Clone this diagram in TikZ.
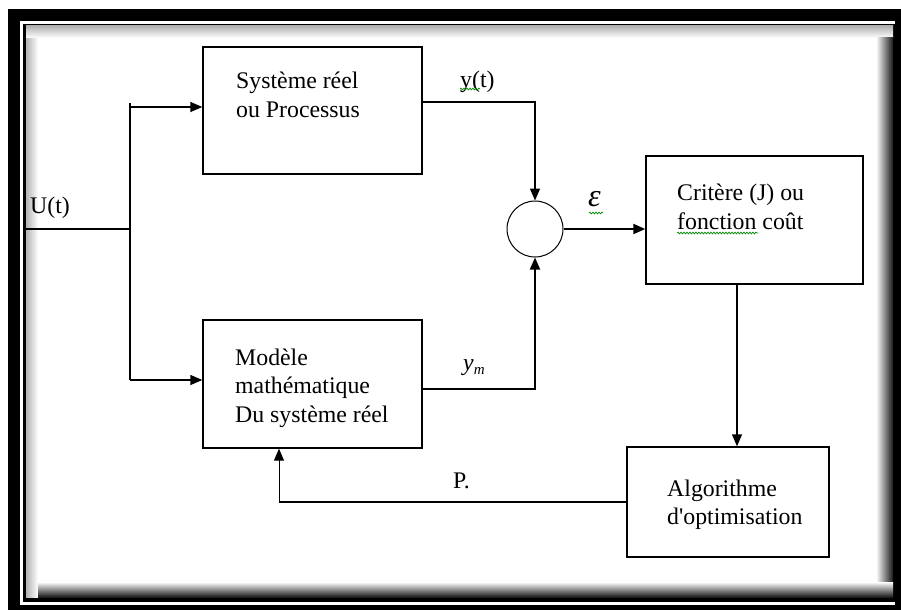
\documentclass[tikz,border=0pt]{standalone}
\usepackage{fontspec}
\setmainfont{Liberation Serif}
\usetikzlibrary{arrows.meta,decorations.pathmorphing}

\tikzset{
  blk/.style={draw=black, line width=1.4pt, rectangle, inner sep=0pt},
  lbl/.style={anchor=base west, inner sep=0pt, font=\fontsize{23.8}{28.5}\selectfont},
  tip/.style={-{Triangle[length=12pt,width=10pt]}},
  wire/.style={line width=1.3pt},
  arr/.style={line width=1.4pt, tip},
  squig/.style={draw=green!55!black, line width=0.7pt,
    decorate, decoration={snake, amplitude=0.9pt, segment length=3pt}}
}

\begin{document}
\begin{tikzpicture}[x=1pt,y=-1pt]
\useasboundingbox (0,0) rectangle (901,610);

% page border: thick outer band, white gap, thin inner line, soft shadow
\fill[black] (8,9) rectangle (901,610);
\fill[white] (20,21) rectangle (895,605);
\fill[black] (23,24) rectangle (895,602);
\fill[white] (26,26) rectangle (893,597);
\shade[left color=gray!60, right color=white] (26,26) rectangle (38,597);
\shade[top color=gray!60, bottom color=white] (26,26) rectangle (893,38);
\shade[left color=white, right color=black!90] (876,38) rectangle (893,597);
\shade[top color=white, bottom color=black!90] (38,582) rectangle (893,597);
\fill[white] (38,38) rectangle (876,582);

% blocks
\node[blk, minimum width=219pt, minimum height=127pt] (sys)  at (312.5,110.5) {};
\node[blk, minimum width=219pt, minimum height=128pt] (mod)  at (312.5,384) {};
\node[blk, minimum width=217pt, minimum height=128pt] (crit) at (754.5,220) {};
\node[blk, minimum width=202pt, minimum height=110pt] (opt)  at (728,502) {};
\node[draw=black, line width=1pt, circle, minimum size=56pt, inner sep=0pt] (sum) at (535,229) {};

% block texts
\node[lbl] (sys1) at (236,88) {Système réel};
\node[lbl] (sys2) at (236,117) {ou Processus};
\node[lbl] (mod1) at (235,365) {Modèle};
\node[lbl] (mod2) at (235,393) {mathématique};
\node[lbl] (mod3) at (235,422) {Du système réel};
\node[lbl] (crit1) at (677,200) {Critère (J) ou};
\node[lbl] (crit2) at (677,229) {fonction coût};
\node[lbl] (opt1) at (667,496) {Algorithme};
\node[lbl] (opt2) at (667,524) {d\textquotesingle optimisation};

% signal labels
\node[lbl] (ulab) at (30,213) {U(t)};
\node[lbl] (ylab) at (460,87) {y(t)};
\node[lbl, font=\fontsize{32}{32}\selectfont\itshape] (elab) at (588,206) {ε};
\node[lbl] (ymlab) at (463,370) {\itshape y\raisebox{-4pt}{\fontsize{15}{15}\selectfont m}};
\node[lbl] (plab) at (453,488) {P.};

% spelling marks
\draw[squig] (460,89) -- (480,89);
\draw[squig] (589,213) -- (603,213);
\draw[squig] (677,233) -- (758,233);

% input and branching
\coordinate (uin) at (26,229);
\coordinate (jmid) at (130,229);
\coordinate (jtop) at (130,103);
\coordinate (jup) at (130,107);
\coordinate (jlow) at (130,380);
\draw[wire] (uin) -- (jmid);
\draw[wire] (jtop) -- (jlow);
\draw[arr] (jup) -- (jup -| sys.west);
\draw[arr] (jlow) -- (jlow -| mod.west);

% outputs to the comparator
\coordinate (yout) at (422,102);
\coordinate (ymout) at (422,389);
\draw[arr] (yout) -| (sum.north);
\draw[line width=1.8pt, tip] (ymout) -| (sum.south);
\draw[line width=2pt, tip] (sum.east) -- (crit.west |- sum.east);

% cost to optimiser, parameters back to model
\coordinate (cdown) at (737,284);
\draw[arr] (cdown) -- (cdown |- opt.north);
\coordinate (pback) at (279,502);
\draw[line width=1.6pt] (opt.west |- pback) -- (pback);
\draw[line width=1pt, tip] (pback) -- (pback |- mod.south);
\end{tikzpicture}
\end{document}
